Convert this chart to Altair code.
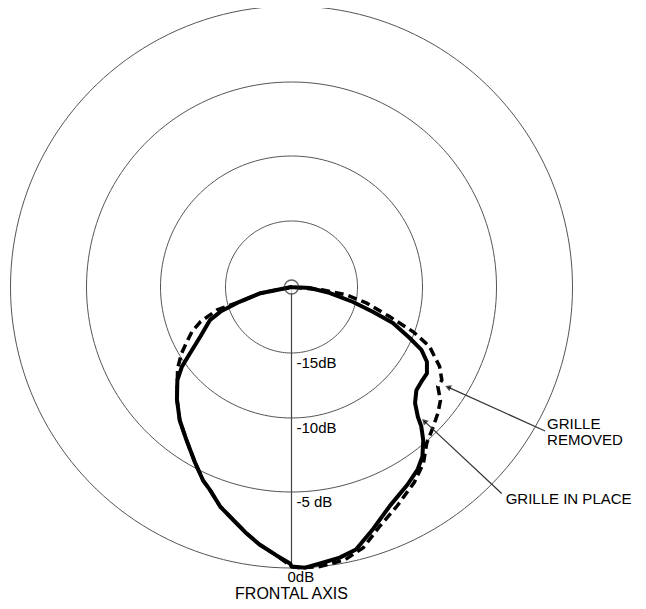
import altair as alt
import pandas as pd

# ---- data (angle in degrees from the frontal axis, level in dB) ----
RING_DB = [-20, -15, -10, -5, 0]
RING_R = [0, 66, 131, 205, 281]          # radial scale of the polar paper
GRID_DB = [-15, -10, -5, 0]

TICK_DB = [-15, -10, -5]
TICK_TEXT = ["-15dB", "-10dB", "-5 dB"]

IN_PLACE_ANGLE = [-90, -78.7, -74.1, -70.9, -67.9, -61.5, -57.0, -54.0, -50.8, -45.5,
                  -40.0, -34.4, -28.7, -24.6, -21.9, -18.0, -14.1, -10.3, -7.0, -3.2,
                  -0.3, 0, 2.8, 5.9, 10.1, 13.8, 18.7, 24.2, 30.3, 34.7, 37.7, 40.7,
                  43.0, 44.2, 46.8, 50.4, 54.5, 57.5, 61.1, 64.2, 66.7, 70.5, 73.0,
                  76.3, 81.1, 86.9, 90]
IN_PLACE_DB = [-20, -17.6, -15.9, -14.3, -13.3, -12.1, -10.8, -9.7, -8.9, -8.0,
               -7.1, -6.3, -5.3, -4.5, -4.1, -3.3, -2.7, -2.0, -1.4, -0.8,
               -0.3, -0.1, 0.0, -0.2, -0.4, -0.7, -1.7, -2.7, -3.4, -3.9, -4.4, -5.2,
               -6.0, -6.6, -7.4, -7.9, -8.0, -8.0, -8.4, -9.1, -10.2, -11.8, -13.5,
               -15.2, -17.1, -18.6, -20]

REMOVED_ANGLE = [-90, -78.7, -74.1, -72.9, -69.2, -65.9, -62.4, -58.9, -54.5, -50.8,
                 -45.5, -40.0, -34.4, -28.7, -24.6, -21.9, -18.0, -14.1, -10.3, -7.0,
                 -3.2, 0, 1.7, 5.8, 11.1, 15.4, 20.2, 25.8, 32.1, 36.8, 40.9, 45.4,
                 49.3, 52.7, 55.8, 58.2, 61.8, 66.7, 69.8, 73.2, 78.0, 81.8, 84.6, 90]
REMOVED_DB = [-20, -17.6, -15.9, -14.1, -12.6, -11.7, -11.0, -10.2, -9.4, -8.9,
              -8.0, -7.1, -6.3, -5.3, -4.5, -4.1, -3.3, -2.7, -2.0, -1.4,
              -0.8, -0.1, 0.0, 0.0, -0.2, -0.7, -1.7, -2.5, -3.3, -4.0, -4.9, -5.4,
              -5.8, -6.2, -6.9, -6.9, -7.5, -8.7, -10.1, -12.2, -14.2, -15.8, -17.6, -20]

# annotation pointers (tail -> tip), polar
PTR_LABEL = ["GRILLE REMOVED", "GRILLE IN PLACE"]
PTR_TAIL_ANGLE = [60.4, 45.5]
PTR_TAIL_DB = [0.7, 0.9]
PTR_TIP_ANGLE = [57.4, 44.7]
PTR_TIP_DB = [-6.3, -6.1]

FONT = "Liberation Sans"


def r_expr(field):
    segs = []
    for i in range(len(RING_DB) - 1):
        d0, d1 = RING_DB[i], RING_DB[i + 1]
        r0, r1 = RING_R[i], RING_R[i + 1]
        segs.append((d1, f"({r0} + ({field} - ({d0})) * {(r1 - r0) / (d1 - d0)})"))
    expr = segs[-1][1]
    for d1, s in reversed(segs[:-1]):
        expr = f"({field} <= {d1} ? {s} : {expr})"
    return expr


def polar(chart, ang="ang", db="db"):
    return chart.transform_calculate(
        r=r_expr(f"datum.{db}")
    ).transform_calculate(
        px=f"datum.r * sin(datum.{ang} * PI / 180)",
        py=f"-datum.r * cos(datum.{ang} * PI / 180)",
    )


XS = alt.Scale(domain=[-283.5, 346.5], nice=False, zero=False)
YS = alt.Scale(domain=[-314, 279], nice=False, zero=False)
X = alt.X("px:Q", scale=XS, axis=None)
Y = alt.Y("py:Q", scale=YS, axis=None)

# grid rings
rings = polar(
    alt.Chart(pd.DataFrame({"db": GRID_DB}))
    .transform_calculate(ang="sequence(0, 362, 2)")
    .transform_flatten(["ang"])
).mark_line(color="#555555", strokeWidth=1).encode(
    x=X, y=Y, detail="db:N", order="ang:Q"
)

# frontal axis
axis_line = polar(
    alt.Chart(pd.DataFrame({"db": [RING_DB[0], 0], "ang": [0, 0]}))
).mark_line(color="#444444", strokeWidth=1.2).encode(x=X, y=Y, order="db:Q")

center = polar(
    alt.Chart(pd.DataFrame({"db": [RING_DB[0]], "ang": [0]}))
).mark_point(shape="circle", size=196, color="#222222", strokeWidth=1.4,
             filled=True, fill="white").encode(x=X, y=Y)

removed = polar(
    alt.Chart(pd.DataFrame({"ang": REMOVED_ANGLE, "db": REMOVED_DB}))
).mark_line(color="black", strokeWidth=3.5, strokeDash=[9, 5]).encode(
    x=X, y=Y, order="ang:Q"
)

in_place = polar(
    alt.Chart(pd.DataFrame({"ang": IN_PLACE_ANGLE, "db": IN_PLACE_DB}))
).mark_line(color="black", strokeWidth=4, strokeJoin="round", strokeCap="round").encode(
    x=X, y=Y, order="ang:Q"
)

center_top = polar(
    alt.Chart(pd.DataFrame({"db": [RING_DB[0]], "ang": [0]}))
).mark_point(shape="circle", size=196, color="#222222", strokeWidth=1.4).encode(x=X, y=Y)

ticks = polar(
    alt.Chart(pd.DataFrame({"db": TICK_DB, "ang": [0] * len(TICK_DB), "t": TICK_TEXT}))
).mark_text(align="left", baseline="middle", dx=5, dy=10, font=FONT, fontSize=15,
            color="black").encode(x=X, y=Y, text="t:N")

zero_lbl = polar(
    alt.Chart(pd.DataFrame({"db": [0], "ang": [0], "t": ["0dB"]}))
).mark_text(align="left", baseline="middle", dx=-4, dy=9, font=FONT, fontSize=15,
            color="black").encode(x=X, y=Y, text="t:N")

frontal = polar(
    alt.Chart(pd.DataFrame({"db": [0], "ang": [0], "t": ["FRONTAL AXIS"]}))
).mark_text(align="center", baseline="alphabetic", dy=31, font=FONT, fontSize=16,
            color="black").encode(x=X, y=Y, text="t:N")

ptr_df = pd.DataFrame({
    "label": PTR_LABEL * 2,
    "ang": PTR_TAIL_ANGLE + PTR_TIP_ANGLE,
    "db": PTR_TAIL_DB + PTR_TIP_DB,
    "end": ["tail"] * 2 + ["tip"] * 2,
})
pointers = polar(alt.Chart(ptr_df)).mark_line(color="#333333", strokeWidth=1.2).encode(
    x=X, y=Y, detail="label:N", order="end:N"
)

heads = polar(
    alt.Chart(pd.DataFrame({"ang": PTR_TIP_ANGLE, "db": PTR_TIP_DB, "rot": [24, 45]}))
).mark_point(shape="triangle-left", size=45, filled=True, color="black").encode(
    x=X, y=Y, angle=alt.Angle("rot:Q", scale=None)
)

tail_removed = pd.DataFrame({"ang": [PTR_TAIL_ANGLE[0]], "db": [PTR_TAIL_DB[0]],
                             "t1": ["GRILLE"], "t2": ["REMOVED"]})
lbl_removed1 = polar(alt.Chart(tail_removed)).mark_text(
    align="left", baseline="middle", dx=2, dy=-7, font=FONT, fontSize=15, color="black"
).encode(x=X, y=Y, text="t1:N")
lbl_removed2 = polar(alt.Chart(tail_removed)).mark_text(
    align="left", baseline="middle", dx=2, dy=9, font=FONT, fontSize=15, color="black"
).encode(x=X, y=Y, text="t2:N")

lbl_place = polar(
    alt.Chart(pd.DataFrame({"ang": [PTR_TAIL_ANGLE[1]], "db": [PTR_TAIL_DB[1]],
                            "t": [PTR_LABEL[1]]}))
).mark_text(align="left", baseline="middle", dx=4, dy=5, font=FONT, fontSize=15,
            color="black").encode(x=X, y=Y, text="t:N")

chart = alt.layer(
    rings, axis_line, center, removed, in_place, center_top, ticks, zero_lbl,
    frontal, pointers, heads, lbl_removed1, lbl_removed2, lbl_place
).properties(
    width=630, height=593, padding=0, autosize="none", background="white"
).configure_view(stroke=None)

chart.save("out.html", embed_options={"renderer": "svg", "actions": False})
